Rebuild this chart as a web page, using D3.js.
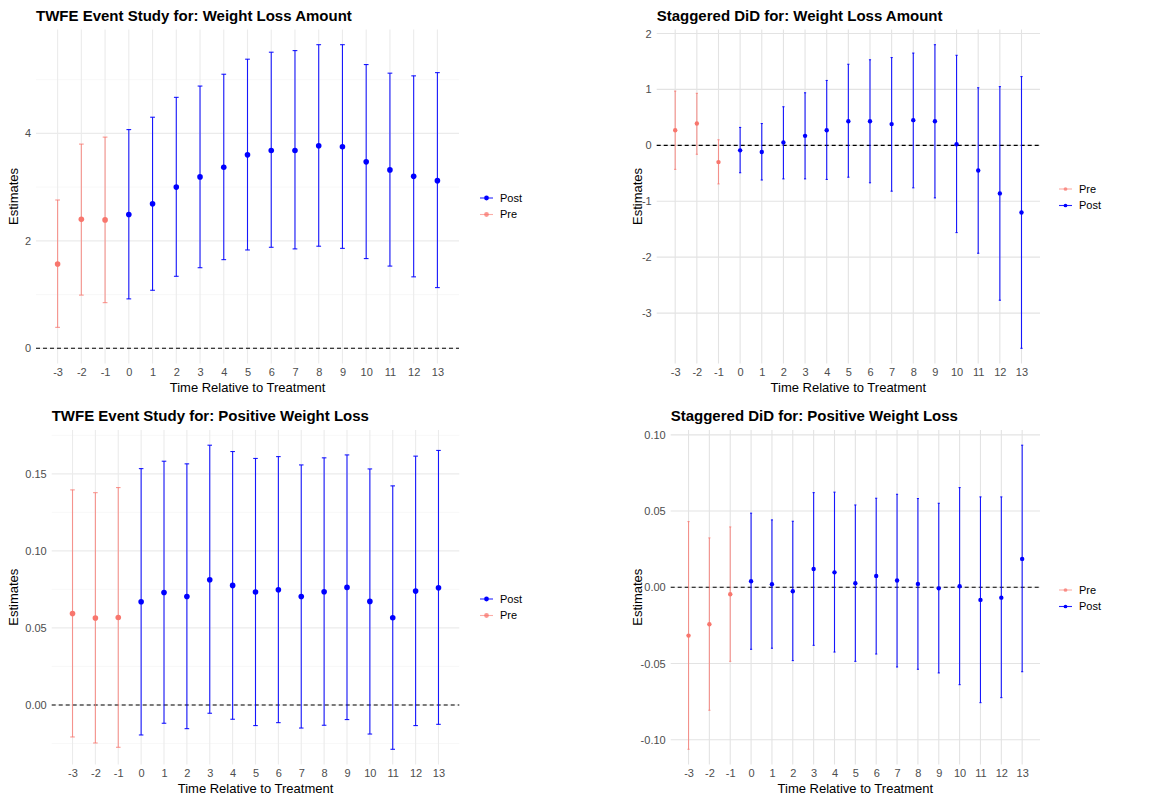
<!DOCTYPE html>
<html>
<head>
<meta charset="utf-8">
<script src="https://cdn.jsdelivr.net/npm/d3@7"></script>
<style>
  body { margin: 0; background: #fff; }
  svg { display: block; font-family: "Liberation Sans", Arial, sans-serif; }
</style>
</head>
<body>
<div id="chart"></div>
<script>
// event time periods
const periods = [-3, -2, -1, 0, 1, 2, 3, 4, 5, 6, 7, 8, 9, 10, 11, 12, 13];

// TWFE, weight loss amount
const twfeAmtEst = [1.57, 2.40, 2.39, 2.49, 2.69, 3.00, 3.19, 3.37, 3.60, 3.68, 3.68, 3.77, 3.75, 3.47, 3.32, 3.20, 3.12];
const twfeAmtLo  = [0.39, 0.99, 0.85, 0.92, 1.08, 1.34, 1.50, 1.65, 1.83, 1.88, 1.85, 1.90, 1.86, 1.67, 1.53, 1.33, 1.13];
const twfeAmtHi  = [2.76, 3.80, 3.93, 4.07, 4.30, 4.67, 4.88, 5.10, 5.38, 5.51, 5.54, 5.65, 5.65, 5.28, 5.12, 5.07, 5.13];

// staggered DiD, weight loss amount
const didAmtEst = [0.27, 0.39, -0.30, -0.09, -0.12, 0.05, 0.17, 0.27, 0.43, 0.43, 0.38, 0.45, 0.43, 0.02, -0.45, -0.86, -1.20];
const didAmtLo  = [-0.43, -0.16, -0.69, -0.49, -0.62, -0.60, -0.60, -0.61, -0.57, -0.67, -0.82, -0.76, -0.94, -1.56, -1.93, -2.77, -3.63];
const didAmtHi  = [0.97, 0.93, 0.10, 0.32, 0.39, 0.69, 0.94, 1.16, 1.45, 1.53, 1.57, 1.65, 1.80, 1.61, 1.03, 1.05, 1.23];

// TWFE, positive weight loss
const twfePosEst = [0.0594, 0.0564, 0.0568, 0.0670, 0.0730, 0.0704, 0.0813, 0.0776, 0.0733, 0.0748, 0.0704, 0.0735, 0.0763, 0.0672, 0.0566, 0.0739, 0.0761];
const twfePosLo  = [-0.0208, -0.0247, -0.0275, -0.0195, -0.0119, -0.0154, -0.0054, -0.0093, -0.0134, -0.0115, -0.0150, -0.0132, -0.0095, -0.0189, -0.0288, -0.0134, -0.0126];
const twfePosHi  = [0.1396, 0.1378, 0.1411, 0.1534, 0.1582, 0.1565, 0.1686, 0.1645, 0.1600, 0.1612, 0.1558, 0.1604, 0.1623, 0.1532, 0.1422, 0.1615, 0.1652];

// staggered DiD, positive weight loss
const didPosEst = [-0.0317, -0.0243, -0.0046, 0.0039, 0.0020, -0.0026, 0.0120, 0.0098, 0.0026, 0.0074, 0.0044, 0.0022, -0.0007, 0.0007, -0.0083, -0.0068, 0.0186];
const didPosLo  = [-0.1063, -0.0807, -0.0486, -0.0407, -0.0400, -0.0481, -0.0381, -0.0425, -0.0486, -0.0438, -0.0523, -0.0538, -0.0562, -0.0639, -0.0757, -0.0724, -0.0554];
const didPosHi  = [0.0431, 0.0324, 0.0396, 0.0486, 0.0442, 0.0433, 0.0621, 0.0624, 0.0540, 0.0584, 0.0610, 0.0582, 0.0551, 0.0654, 0.0593, 0.0593, 0.0932];

const colors = { Pre: "#F8766D", Post: "#0000FF" };

// R prints a plain hyphen for negatives
const locale = d3.formatLocale({ decimal: ".", thousands: ",", grouping: [3], currency: ["", ""], minus: "-" });
const fmtInt = locale.format("d");
const fmt2 = locale.format(".2f");

const width = 1151, height = 799;
const svg = d3.select("#chart").append("svg")
  .attr("width", width)
  .attr("height", height);

const panels = [
  { title: "TWFE Event Study for: Weight Loss Amount", est: twfeAmtEst, lo: twfeAmtLo, hi: twfeAmtHi,
    box: [36, 29.5, 459, 363.5], yTicks: [0, 2, 4], yMinor: [1, 3, 5], fmt: fmtInt,
    cap: 0.2, r: 2.8, grid: "#EBEBEB", legendOrder: ["Post", "Pre"], legend: [480, 198], yTitleX: 13 },
  { title: "Staggered DiD for: Weight Loss Amount", est: didAmtEst, lo: didAmtLo, hi: didAmtHi,
    box: [656.7, 29.5, 1040, 363.5], yTicks: [-3, -2, -1, 0, 1, 2], yMinor: [], fmt: fmtInt,
    cap: 0.1, r: 2.2, grid: "#E3E3E3", legendOrder: ["Pre", "Post"], legend: [1059, 189], yTitleX: 637 },
  { title: "TWFE Event Study for: Positive Weight Loss", est: twfePosEst, lo: twfePosLo, hi: twfePosHi,
    box: [51.7, 430, 459.3, 764.5], yTicks: [0, 0.05, 0.10, 0.15], yMinor: [-0.025, 0.025, 0.075, 0.125, 0.175], fmt: fmt2,
    cap: 0.2, r: 2.8, grid: "#EBEBEB", legendOrder: ["Post", "Pre"], legend: [480, 599], yTitleX: 13 },
  { title: "Staggered DiD for: Positive Weight Loss", est: didPosEst, lo: didPosLo, hi: didPosHi,
    box: [670.7, 430, 1040, 764.5], yTicks: [-0.10, -0.05, 0, 0.05, 0.10], yMinor: [], fmt: fmt2,
    cap: 0.1, r: 2.2, grid: "#E3E3E3", legendOrder: ["Pre", "Post"], legend: [1059, 590], yTitleX: 637 }
];

panels.forEach(drawPanel);

function drawPanel(p) {
  const [x0, y0, x1, y1] = p.box;
  const rows = periods.map((t, i) => ({
    t, est: p.est[i], lo: p.lo[i], hi: p.hi[i], grp: t < 0 ? "Pre" : "Post"
  }));

  // ggplot style 5% expansion
  const xMin = d3.min(periods) - p.cap / 2, xMax = d3.max(periods) + p.cap / 2;
  const xPad = (xMax - xMin) * 0.05;
  const x = d3.scaleLinear().domain([xMin - xPad, xMax + xPad]).range([x0, x1]);
  const yMin = Math.min(0, d3.min(p.lo)), yMax = Math.max(0, d3.max(p.hi));
  const yPad = (yMax - yMin) * 0.05;
  const y = d3.scaleLinear().domain([yMin - yPad, yMax + yPad]).range([y1, y0]);

  const g = svg.append("g");

  // grid
  g.selectAll(".minor").data(p.yMinor.filter(v => y(v) >= y0 && y(v) <= y1)).join("line")
    .attr("x1", x0).attr("x2", x1)
    .attr("y1", d => y(d)).attr("y2", d => y(d))
    .attr("stroke", "#F3F3F3").attr("stroke-width", 0.6);
  g.selectAll(".hmajor").data(p.yTicks).join("line")
    .attr("x1", x0).attr("x2", x1)
    .attr("y1", d => y(d)).attr("y2", d => y(d))
    .attr("stroke", p.grid).attr("stroke-width", 1.1);
  g.selectAll(".vmajor").data(periods).join("line")
    .attr("x1", d => x(d)).attr("x2", d => x(d))
    .attr("y1", y0).attr("y2", y1)
    .attr("stroke", p.grid).attr("stroke-width", 1.1);

  // axes
  const ax = g.append("g")
    .attr("transform", `translate(0,${y1})`)
    .call(d3.axisBottom(x).tickValues(periods).tickSize(0).tickPadding(5).tickFormat(fmtInt));
  const ay = g.append("g")
    .attr("transform", `translate(${x0},0)`)
    .call(d3.axisLeft(y).tickValues(p.yTicks).tickSize(0).tickPadding(5).tickFormat(p.fmt));
  [ax, ay].forEach(a => {
    a.select(".domain").remove();
    a.selectAll("text").attr("fill", "#4D4D4D").style("font-size", "11px")
      .style("font-family", "'Liberation Sans', Arial, sans-serif");
  });

  // reference line at zero
  g.append("line")
    .attr("x1", x0).attr("x2", x1)
    .attr("y1", y(0)).attr("y2", y(0))
    .attr("stroke", "#000").attr("stroke-width", 1.1)
    .attr("stroke-dasharray", "4,3");

  // error bars
  const bars = g.selectAll(".bar").data(rows).join("g")
    .attr("stroke", d => colors[d.grp])
    .attr("stroke-opacity", d => d.grp === "Pre" ? 0.75 : 0.9)
    .attr("stroke-width", 1.1);
  bars.append("line")
    .attr("x1", d => x(d.t)).attr("x2", d => x(d.t))
    .attr("y1", d => y(d.lo)).attr("y2", d => y(d.hi));
  bars.append("line")
    .attr("x1", d => x(d.t - p.cap / 2)).attr("x2", d => x(d.t + p.cap / 2))
    .attr("y1", d => y(d.lo)).attr("y2", d => y(d.lo));
  bars.append("line")
    .attr("x1", d => x(d.t - p.cap / 2)).attr("x2", d => x(d.t + p.cap / 2))
    .attr("y1", d => y(d.hi)).attr("y2", d => y(d.hi));

  // points
  g.selectAll(".pt").data(rows).join("circle")
    .attr("cx", d => x(d.t)).attr("cy", d => y(d.est))
    .attr("r", p.r)
    .attr("fill", d => colors[d.grp]);

  // titles
  g.append("text")
    .attr("x", x0).attr("y", y0 - 9)
    .style("font-size", "15px").style("font-weight", "bold")
    .text(p.title);
  g.append("text")
    .attr("x", (x0 + x1) / 2).attr("y", y1 + 28)
    .attr("text-anchor", "middle")
    .style("font-size", "13px")
    .text("Time Relative to Treatment");
  g.append("text")
    .attr("transform", `translate(${p.yTitleX},${(y0 + y1) / 2}) rotate(-90)`)
    .attr("text-anchor", "middle")
    .attr("dy", "0.35em")
    .style("font-size", "13px")
    .text("Estimates");

  // legend
  const [lx, ly] = p.legend;
  const lg = g.selectAll(".leg").data(p.legendOrder).join("g")
    .attr("transform", (d, i) => `translate(${lx},${ly + i * 16.5})`);
  lg.append("line")
    .attr("x1", 0).attr("x2", 13)
    .attr("stroke", d => colors[d])
    .attr("stroke-opacity", d => d === "Pre" ? 0.6 : 0.85)
    .attr("stroke-width", 1.1);
  lg.append("circle")
    .attr("cx", 6.5).attr("r", p.r * 0.85)
    .attr("fill", d => colors[d])
    .attr("fill-opacity", d => d === "Pre" ? 0.75 : 1);
  lg.append("text")
    .attr("x", 20).attr("dy", "0.35em")
    .style("font-size", "11px")
    .text(d => d);
}
</script>
</body>
</html>
